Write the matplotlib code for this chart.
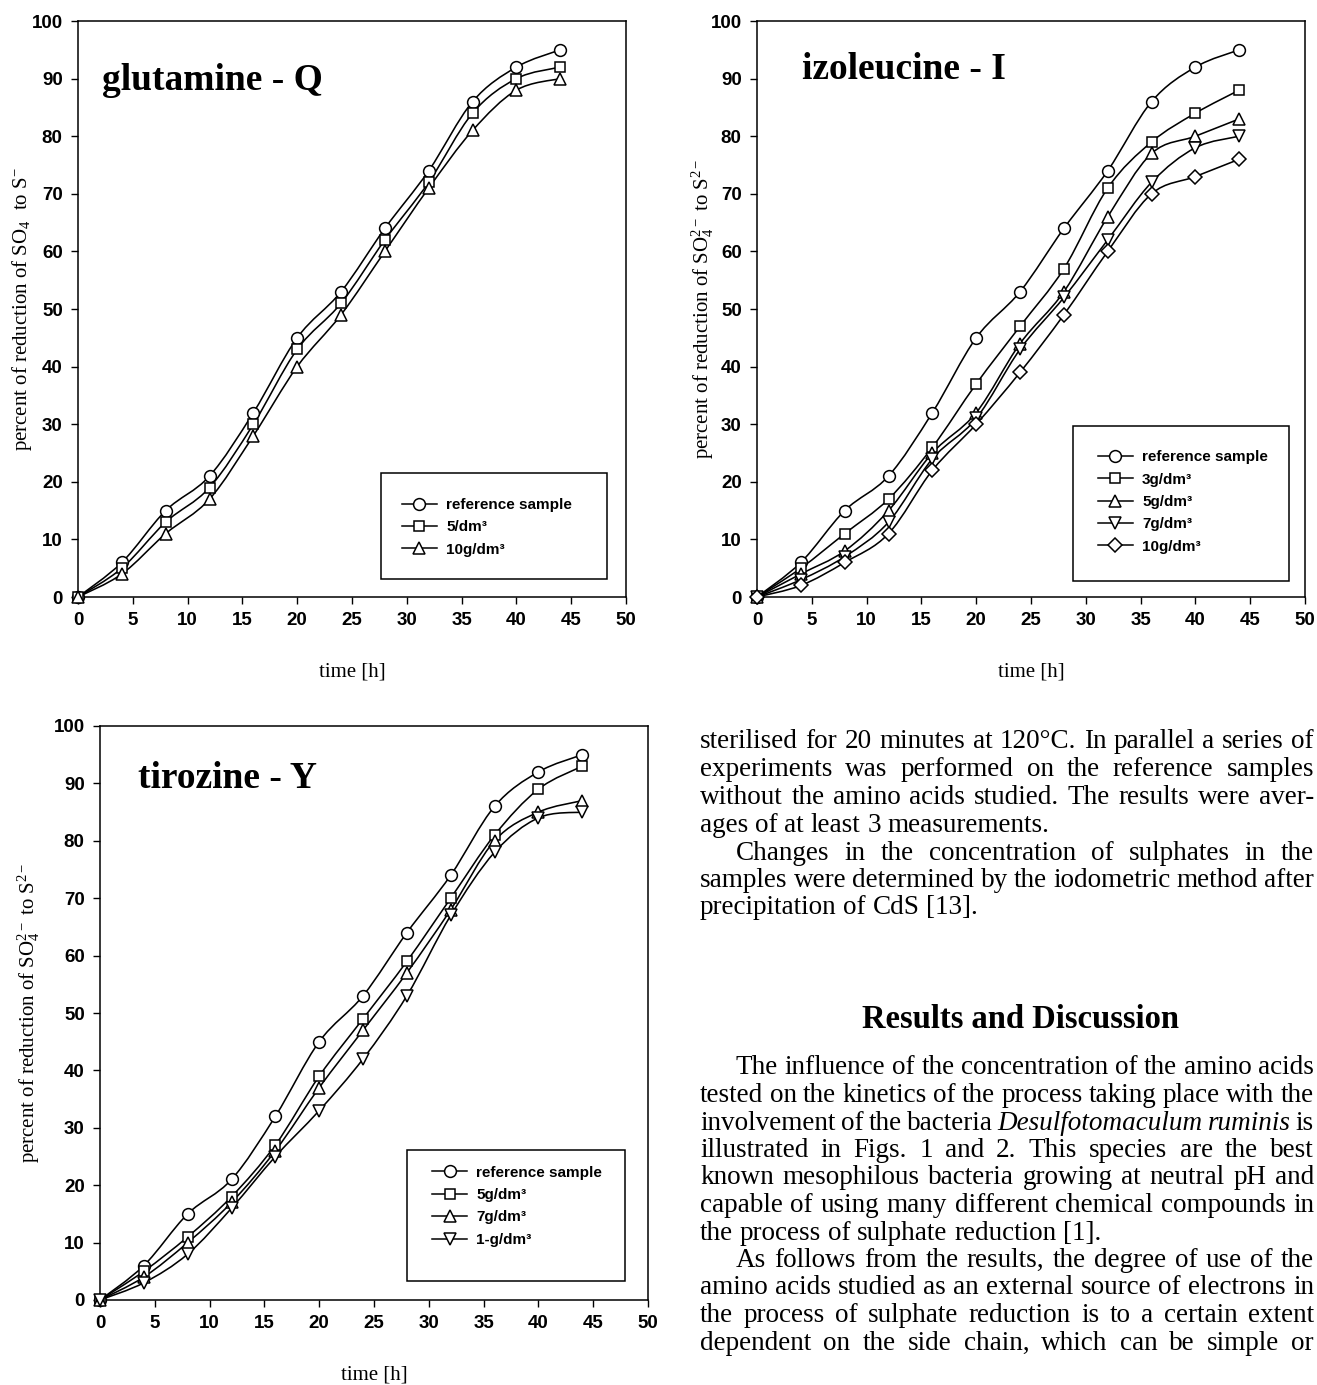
import numpy as np
import matplotlib
matplotlib.use('Agg')
import matplotlib.pyplot as plt
from matplotlib.path import Path
from matplotlib.patches import PathPatch, Rectangle
from matplotlib.lines import Line2D

plt.rcParams.update({
    'font.family': 'Liberation Sans',
    'mathtext.fontset': 'custom',
    'mathtext.rm': 'Liberation Serif',
    'mathtext.it': 'Liberation Serif:italic',
    'mathtext.bf': 'Liberation Serif:bold',
    'axes.linewidth': 1.1,
})

W, H = 1317, 1385

# ---- data ----
TIME = [0, 4, 8, 12, 16, 20, 24, 28, 32, 36, 40, 44]
REF = [0, 6, 15, 21, 32, 45, 53, 64, 74, 86, 92, 95]

GLN_LABELS = ['reference sample', '5/dm³', '10g/dm³']
GLN_5 = [0, 5, 13, 19, 30, 43, 51, 62, 72, 84, 90, 92]
GLN_10 = [0, 4, 11, 17, 28, 40, 49, 60, 71, 81, 88, 90]

ILE_LABELS = ['reference sample', '3g/dm³', '5g/dm³', '7g/dm³', '10g/dm³']
ILE_3 = [0, 5, 11, 17, 26, 37, 47, 57, 71, 79, 84, 88]
ILE_5 = [0, 4, 8, 15, 25, 32, 44, 53, 66, 77, 80, 83]
ILE_7 = [0, 3, 7, 13, 24, 31, 43, 52, 62, 72, 78, 80]
ILE_10 = [0, 2, 6, 11, 22, 30, 39, 49, 60, 70, 73, 76]

TYR_LABELS = ['reference sample', '5g/dm³', '7g/dm³', '1-g/dm³']
TYR_5 = [0, 5, 11, 18, 27, 39, 49, 59, 70, 81, 89, 93]
TYR_7 = [0, 4, 10, 17, 26, 37, 47, 57, 68, 80, 85, 87]
TYR_1 = [0, 3, 8, 16, 25, 33, 42, 53, 67, 78, 84, 85]

MARKERS = ['o', 's', '^', 'v', 'D']
MSIZE = {'o': 8.5, 's': 7.5, '^': 8.5, 'v': 8.5, 'D': 7}

YLAB = r'percent of reduction of SO$_4^{2-}$ to S$^{2-}$'
YLAB_Q = r'percent of reduction of SO$_4$  to S$^{-}$'


def smooth_path(x, y):
    # Catmull-Rom spline through the points, as cubic Bezier segments
    p = np.column_stack([x, y]).astype(float)
    verts = [p[0]]
    codes = [Path.MOVETO]
    n = len(p)
    for i in range(n - 1):
        p0 = p[i - 1] if i > 0 else p[i]
        p3 = p[i + 2] if i + 2 < n else p[i + 1]
        c1 = p[i] + (p[i + 1] - p0) / 6
        c2 = p[i + 1] - (p3 - p[i]) / 6
        verts += [c1, c2, p[i + 1]]
        codes += [Path.CURVE4] * 3
    return Path(verts, codes)


def panel(rect, series, labels, title, title_xy, ylab, ylab_x, leg_box, leg_anchor):
    ax = fig.add_axes(rect)
    handles = []
    for k, ys in enumerate(series):
        m = MARKERS[k]
        ax.add_patch(PathPatch(smooth_path(TIME, ys), fill=False, ec='black', lw=1.15, zorder=2))
        ax.plot(TIME, ys, ls='none', marker=m, ms=MSIZE[m], mfc='white', mec='black',
                mew=1.1, zorder=3, clip_on=False)
        handles.append(Line2D([], [], color='black', lw=1.1, marker=m, ms=MSIZE[m],
                              mfc='white', mec='black', mew=1.1))
    ax.set_xlim(0, 50)
    ax.set_ylim(0, 100)
    ax.set_xticks(range(0, 51, 5))
    ax.set_yticks(range(0, 101, 10))
    ax.tick_params(direction='out', length=5, width=1.0, labelsize=13.5, pad=6)
    for t in ax.get_xticklabels() + ax.get_yticklabels():
        t.set_fontweight('bold')
    ax.set_xlabel('time [h]', family='Liberation Serif', fontsize=15)
    ax.xaxis.set_label_coords(0.5, -0.13)
    ax.xaxis.label.set_va('center')
    ax.set_ylabel(ylab, family='Liberation Serif', fontsize=15)
    ax.yaxis.set_label_coords(ylab_x, 0.5)
    ax.yaxis.label.set_va('center')
    ax.text(title_xy[0], title_xy[1], title, family='Liberation Serif', fontweight='bold',
            fontsize=27, va='baseline', ha='left')
    x0, y0, x1, y1 = leg_box
    ax.add_patch(Rectangle((x0, y0), x1 - x0, y1 - y0, transform=ax.transAxes,
                           fill=False, ec='black', lw=1.1, zorder=4))
    ax.legend(handles, labels, loc='upper left', bbox_to_anchor=leg_anchor, frameon=False,
              borderaxespad=0, borderpad=0, handlelength=2.3, handletextpad=0.6,
              labelspacing=0.55, prop={'family': 'Liberation Sans', 'weight': 'bold', 'size': 11})
    return ax


fig = plt.figure(figsize=(W / 100, H / 100), dpi=100)

panel([78 / W, 1 - 597 / H, 548 / W, 576 / H], [REF, GLN_5, GLN_10], GLN_LABELS,
      'glutamine - Q', (2.2, 88), YLAB_Q, -0.102,
      (0.553, 0.031, 0.965, 0.215), (0.591, 0.172))
panel([757 / W, 1 - 597 / H, 548 / W, 576 / H], [REF, ILE_3, ILE_5, ILE_7, ILE_10], ILE_LABELS,
      'izoleucine - I', (4.1, 90), YLAB, -0.100,
      (0.577, 0.028, 0.971, 0.297), (0.622, 0.255))
panel([100 / W, 1 - 1300 / H, 548 / W, 574 / H], [REF, TYR_5, TYR_7, TYR_1], TYR_LABELS,
      'tirozine - Y', (3.5, 89.2), YLAB, -0.13,
      (0.56, 0.033, 0.958, 0.261), (0.606, 0.234))

# ---- body text on the right (justified lines) ----
BODY = [
    (742, 0, True, 'sterilised for 20 minutes at 120°C. In parallel a series of'),
    (769.5, 0, True, 'experiments was performed on the reference samples'),
    (797, 0, True, 'without the amino acids studied. The results were aver-'),
    (825, 0, False, 'ages of at least 3 measurements.'),
    (853, 1, True, 'Changes in the concentration of sulphates in the'),
    (880.5, 0, True, 'samples were determined by the iodometric method after'),
    (908, 0, False, 'precipitation of CdS [13].'),
    (1068, 1, True, 'The influence of the concentration of the amino acids'),
    (1095.5, 0, True, 'tested on the kinetics of the process taking place with the'),
    (1123, 0, True, 'involvement of the bacteria _Desulfotomaculum _ruminis is'),
    (1150.5, 0, True, 'illustrated in Figs. 1 and 2. This species are the best'),
    (1178, 0, True, 'known mesophilous bacteria growing at neutral pH and'),
    (1205.5, 0, True, 'capable of using many different chemical compounds in'),
    (1233, 0, False, 'the process of sulphate reduction [1].'),
    (1260.5, 1, True, 'As follows from the results, the degree of use of the'),
    (1288, 0, True, 'amino acids studied as an external source of electrons in'),
    (1315.5, 0, True, 'the process of sulphate reduction is to a certain extent'),
    (1343, 0, True, 'dependent on the side chain, which can be simple or'),
]
X_LEFT, X_RIGHT, INDENT = 700, 1314, 36
FS = 19.5
renderer = fig.canvas.get_renderer()
for y, ind, just, line in BODY:
    words = line.split(' ')
    arts = []
    for w in words:
        italic = w.startswith('_')
        t = fig.text(0, 1 - y / H, w.lstrip('_'), family='Liberation Serif', fontsize=FS,
                     style='italic' if italic else 'normal', va='center', ha='left')
        arts.append((t, t.get_window_extent(renderer).width))
    x = X_LEFT + ind * INDENT
    total = sum(wd for _, wd in arts)
    if just and len(arts) > 1:
        gap = max((X_RIGHT - x - total) / (len(arts) - 1), 2)
    else:
        gap = FS * 100 / 72 * 0.25
    for t, wd in arts:
        t.set_x(x / W)
        x += wd + gap

fig.text(1020 / W, 1 - 1020 / H, 'Results and Discussion', family='Liberation Serif',
         fontweight='bold', fontsize=23.5, ha='center', va='center')

fig.savefig('out.png', dpi=100, facecolor='white')
